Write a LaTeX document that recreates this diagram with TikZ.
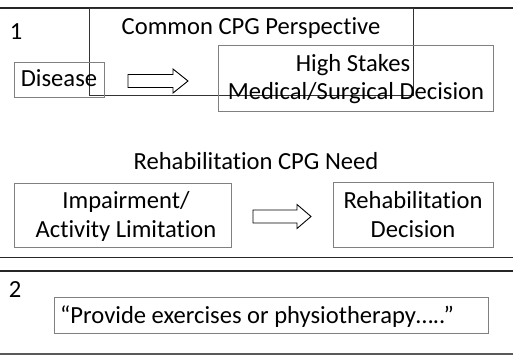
\documentclass[tikz,border=0pt]{standalone}
\usepackage{fontspec}
\setmainfont{Carlito}[Ligatures=NoCommon]
\begin{document}
\begin{tikzpicture}[x=1pt,y=-1pt,
  every node/.style={font=\fontsize{24.6}{29}\selectfont, inner sep=0pt},
  rule/.style={line width=1.4pt, draw=black!85},
  thinrule/.style={line width=0.9pt, draw=black!85},
  framebox/.style={draw=black!50, line width=0.8pt},
  outline/.style={draw=black!80, line width=0.7pt},
  blockarrow/.style={draw=black, line width=0.9pt, fill=white, line join=miter},
  txt/.style={anchor=base, align=center}]
\useasboundingbox (0,0) rectangle (513,355);

% ---- panel 1 ----
\draw[rule] (0,8) -- (513,8);
\draw[outline] (89,8) rectangle (413,95);
\node[anchor=center] (num1) at (16,32) {1};
\node[txt] (title1) at (251,35) {Common CPG Perspective};

\draw[framebox] (14,62) rectangle (104,97);
\node[txt] (disease) at (59,87) {Disease};

\draw[framebox] (218,45) rectangle (493,111);
\node[txt] (stakes) at (353,72) {High Stakes};
\node[txt] (medical) at (356,100) {Medical/Surgical Decision};

% block arrow: tail x, head base x, tip x, centre y
\newcommand\drawblockarrow[4]{%
  \draw[blockarrow] (#1,#4-6.5) -- (#2,#4-6.5) -- (#2,#4-12) -- (#3,#4)
    -- (#2,#4+12) -- (#2,#4+6.5) -- (#1,#4+6.5) -- cycle;}
\drawblockarrow{128}{173}{188}{81}

% ---- rehabilitation need ----
\node[txt] (title2) at (256,170) {Rehabilitation CPG Need};

\draw[framebox] (14,183) rectangle (231,247);
\node[txt] (impair) at (126,208) {Impairment/};
\node[txt] (activity) at (126,237) {Activity Limitation};

\draw[framebox] (333,182) rectangle (493,247);
\node[txt] (rehab) at (413,208) {Rehabilitation};
\node[txt] (decision) at (413,237) {Decision};

\drawblockarrow{253}{297}{311}{216.5}

% ---- panel 2 ----
\draw[thinrule] (0,257) -- (513,257);
\draw[rule] (0,271) -- (513,271);
\node[anchor=center] (num2) at (15,289.5) {2};
\draw[framebox] (54,297) rectangle (488,333);
\node[anchor=base west] (quote) at (60,323) {“Provide exercises or physiotherapy…..”};
\draw[line width=1.4pt, draw=black!65] (0,354) -- (513,354);
\end{tikzpicture}
\end{document}
